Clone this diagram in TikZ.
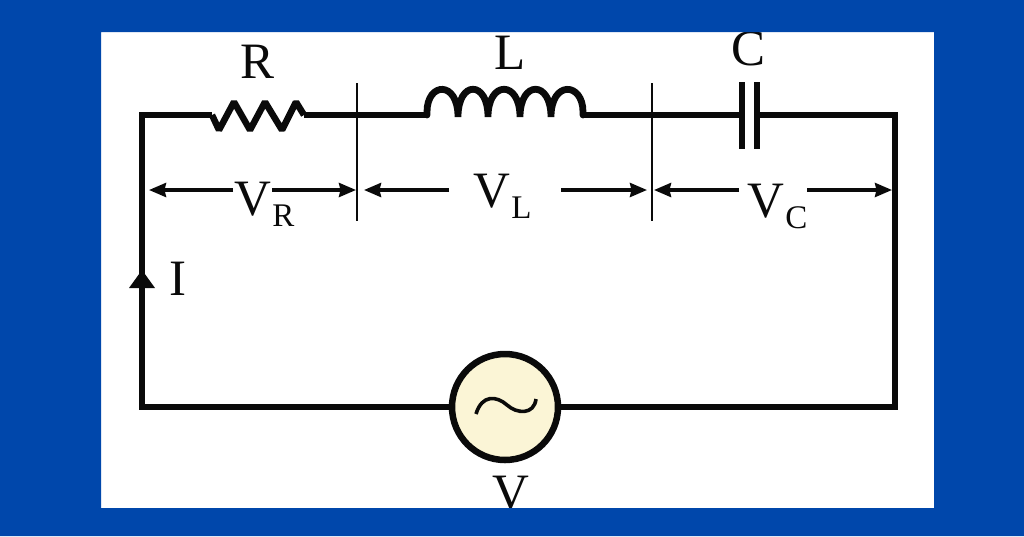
\documentclass[tikz,border=0pt]{standalone}
\usepackage{fontspec}
\setmainfont{Liberation Serif}
\usetikzlibrary{arrows.meta}
\definecolor{framecol}{HTML}{0047AB}
\definecolor{srccol}{HTML}{FBF5D6}
\definecolor{inkcol}{HTML}{0A0A0A}
\newcommand{\bigtxt}{\fontsize{51}{51}\selectfont}
\newcommand{\subtxt}[1]{{\fontsize{33}{33}\selectfont\kern1.5pt\lower11pt\hbox{#1}}}
\tikzset{
  wire/.style={draw=inkcol,line width=6.2pt,line join=miter},
  thin mark/.style={draw=inkcol,line width=2pt},
  dimarrow/.style={draw=inkcol,line width=3.4pt,-{Stealth[length=17pt,width=14pt,inset=1.5pt]}},
  lbl/.style={inner sep=0pt,outer sep=0pt,anchor=base,text=inkcol,font=\bigtxt},
  lblw/.style={inner sep=0pt,outer sep=0pt,anchor=base west,text=inkcol,font=\bigtxt},
}
\begin{document}
\begin{tikzpicture}[x=1pt,y=-1pt]
\useasboundingbox (0,0) rectangle (1024,536);
\fill[white] (0,0) rectangle (1024,536);
% corners and junctions
\coordinate (tl) at (142,115);
\coordinate (tr) at (895,115);
\coordinate (bl) at (142,407);
\coordinate (br) at (895,407);
\coordinate (resL) at (212,115);
\coordinate (resR) at (304,115);
\coordinate (indL) at (427,115);
\coordinate (indR) at (583,115);
\coordinate (capL) at (742,115);
\coordinate (capR) at (757,115);
% source
\node[circle,draw=inkcol,line width=6.5pt,fill=srccol,minimum size=106pt,inner sep=0pt] (src) at (505,407) {};
% wires
\draw[wire] (resL) -- (tl) -- (bl) -- (src.west);
\draw[wire] (src.east) -- (br) -- (tr) -- (capR);
\draw[wire] (resR) -- (indL);
\draw[wire] (indR) -- (capL);
% resistor
\draw[wire,line width=6.5pt,line join=miter,miter limit=2]
  (resL) -- (219,130) -- (234,102) -- (250,130) -- (265,102) -- (282,130) -- (296,102) -- (resR);
% inductor
\draw[wire,line width=6.8pt,line cap=round]
  (indL) -- (427,112) .. controls (427,82) and (458,80) .. (458,117)
  .. controls (458,80) and (488,80) .. (488,117)
  .. controls (488,80) and (520,80) .. (520,117)
  .. controls (520,80) and (551,80) .. (551,117)
  .. controls (551,80) and (583,82) .. (583,112) -- (indR);
% capacitor
\coordinate (capLt) at (742,82); \coordinate (capLb) at (742,149);
\coordinate (capRt) at (757,82); \coordinate (capRb) at (757,149);
\draw[wire] (capLt) -- (capLb);
\draw[wire] (capRt) -- (capRb);
% tilde
\draw[draw=inkcol,line width=3.6pt]
  (476,414) .. controls (482,394) and (497,396) .. (507,405)
  .. controls (517,414) and (534,415) .. (536,399);
% thin separators
\coordinate (s1t) at (357,83); \coordinate (s1b) at (357,221);
\coordinate (s2t) at (652,83); \coordinate (s2b) at (652,221);
\draw[thin mark] (s1t) -- (s1b);
\draw[thin mark] (s2t) -- (s2b);
% labels
\node[lbl] (lR) at (258,78) {R};
\node[lbl] (lL) at (510,69) {L};
\node[lbl] (lC) at (748,65) {C};
\node[lbl] (lV) at (511,509) {V};
\node[lbl] (lI) at (178,295) {I};
\node[lblw] (vR) at (234,215) {V\subtxt{R}};
\node[lblw] (vL) at (473,207) {V\subtxt{L}};
\node[lblw] (vC) at (747,217) {V\subtxt{C}};
% voltage arrows
\coordinate (a1) at (233,190); \coordinate (a1t) at (149,190);
\coordinate (a2) at (272,190); \coordinate (a2t) at (356,190);
\coordinate (a3) at (449,190); \coordinate (a3t) at (364,190);
\coordinate (a4) at (561,190); \coordinate (a4t) at (647,190);
\coordinate (a5) at (739,190); \coordinate (a5t) at (654,190);
\coordinate (a6) at (807,190); \coordinate (a6t) at (892,190);
\draw[dimarrow] (a1) -- (a1t);
\draw[dimarrow] (a2) -- (a2t);
\draw[dimarrow] (a3) -- (a3t);
\draw[dimarrow] (a4) -- (a4t);
\draw[dimarrow] (a5) -- (a5t);
\draw[dimarrow] (a6) -- (a6t);
% current arrow
\fill[inkcol] (142,270) -- (155,288) -- (129,288) -- cycle;
% frame
\fill[framecol,even odd rule] (0,0) rectangle (1024,536) (101,32) rectangle (934,508);
\end{tikzpicture}
\end{document}
